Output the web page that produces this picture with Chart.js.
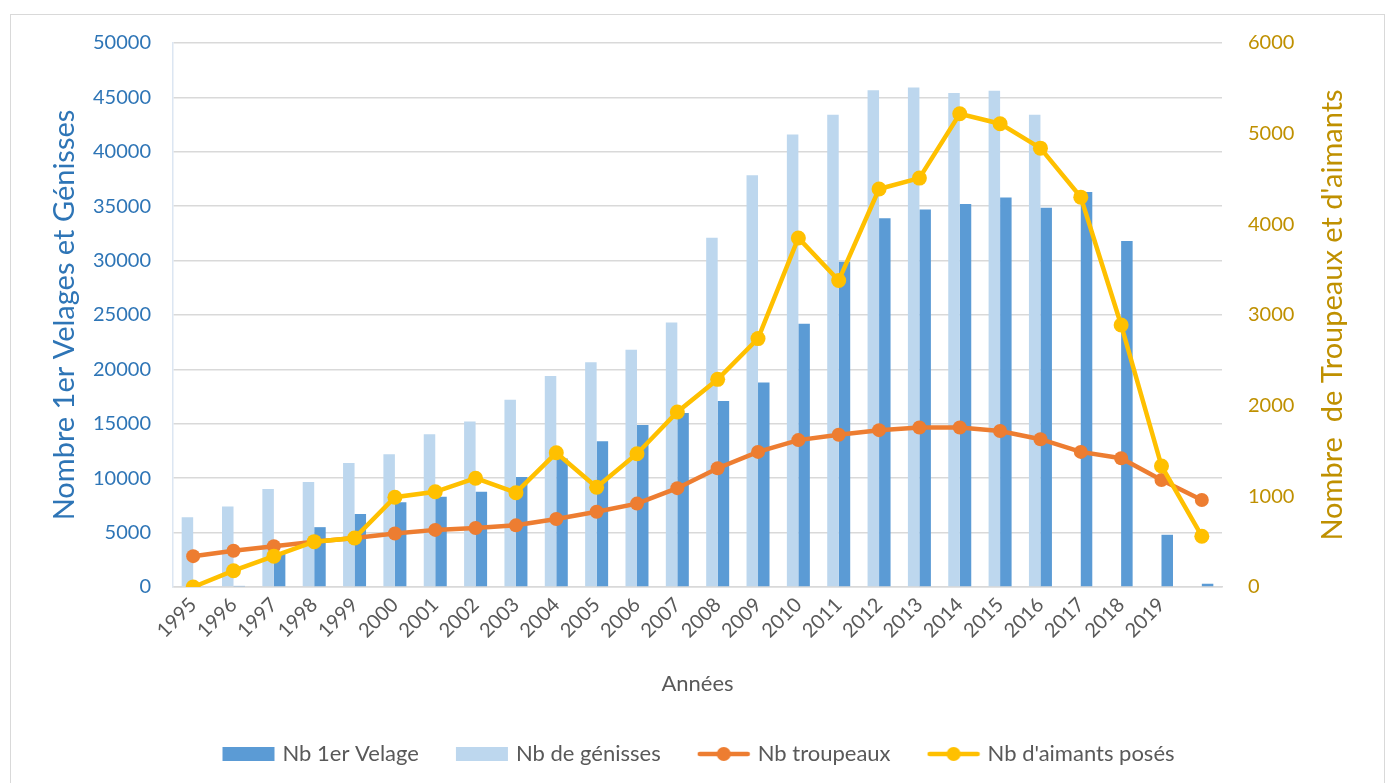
<!DOCTYPE html>
<html>
<head>
<meta charset="utf-8">
<script src="https://cdn.jsdelivr.net/npm/chart.js@4"></script>
<style>
  html, body { margin: 0; padding: 0; background: #fff; }
  #wrap { position: relative; width: 1390px; height: 783px; }
  #frame { position: absolute; left: 10px; top: 14px; width: 1375px; height: 780px; border: 1px solid #d9d9d9; box-sizing: border-box; pointer-events: none; }
</style>
</head>
<body>
<div id="wrap">
  <canvas id="myChart" width="1390" height="783"></canvas>
  <div id="frame"></div>
</div>
<script>
const years = ['1995', '1996', '1997', '1998', '1999', '2000', '2001', '2002', '2003', '2004', '2005', '2006', '2007',
               '2008', '2009', '2010', '2011', '2012', '2013', '2014', '2015', '2016', '2017', '2018', '2019', ''];
const velages = [0, 100, 3200, 5500, 6700, 7800, 8300, 8750, 10100, 11800, 13400, 14900, 16000,
                 17100, 18800, 24200, 29900, 33900, 34700, 35200, 35800, 34850, 36300, 31800, 4800, 300];
const genisses = [6400, 7400, 9000, 9650, 11400, 12200, 14050, 15200, 17200, 19400, 20650, 21800, 24300,
                  32100, 37850, 41600, 43400, 45650, 45900, 45400, 45600, 43400, null, null, null, null];
const troupeaux = [340, 400, 450, 500, 540, 590, 630, 650, 680, 750, 830, 920, 1090,
                   1310, 1490, 1620, 1680, 1730, 1760, 1760, 1720, 1630, 1490, 1420, 1180, 960];
const aimants = [0, 180, 340, 500, 540, 990, 1050, 1200, 1040, 1480, 1100, 1470, 1930,
                 2290, 2740, 3850, 3380, 4390, 4510, 5220, 5110, 4840, 4300, 2890, 1335, 560];
const leftTicks = [0, 5000, 10000, 15000, 20000, 25000, 30000, 35000, 40000, 45000, 50000];
const rightTicks = [0, 1000, 2000, 3000, 4000, 5000, 6000];

const blueDark = '#5B9BD5';
const blueLight = '#BDD7EE';
const orange = '#ED7D31';
const yellow = '#FFC000';
const gray = '#595959';
const gold = '#BF9000';
const fontFam = 'Lato, "Open Sans", sans-serif';
const rightTitle = "Nombre  de Troupeaux et d'aimants";

// little legend icons: a box for bars, a line with a dot for lines
function legendIcon(color, isLine) {
    const c = document.createElement('canvas');
    c.width = 54; c.height = 18;
    const g = c.getContext('2d');
    g.fillStyle = color;
    g.strokeStyle = color;
    if (isLine) {
        g.lineWidth = 4.5;
        g.lineCap = 'round';
        g.beginPath(); g.moveTo(3, 9); g.lineTo(51, 9); g.stroke();
        g.beginPath(); g.arc(27, 9, 7, 0, Math.PI * 2); g.fill();
    } else {
        g.fillRect(1, 2, 52, 14);
    }
    return c;
}
const icons = [legendIcon(blueDark, false), legendIcon(blueLight, false), legendIcon(orange, true), legendIcon(yellow, true)];

// the right axis title reads bottom to top, chart.js turns it the other way
const rightTitlePlugin = {
    id: 'rightTitle',
    afterDraw(chart) {
        const s = chart.scales.y1;
        const c = chart.ctx;
        c.save();
        c.translate(s.right - 27, (chart.chartArea.top + chart.chartArea.bottom) / 2);
        c.rotate(-Math.PI / 2);
        c.fillStyle = gold;
        c.font = '29px ' + fontFam;
        c.textAlign = 'center';
        c.textBaseline = 'middle';
        c.fillText(rightTitle, 0, 0);
        c.restore();
    }
};

const ctx = document.getElementById('myChart').getContext('2d');

new Chart(ctx, {
    type: 'bar',
    data: {
        labels: years,
        datasets: [
            {
                label: 'Nb 1er Velage',
                data: velages,
                backgroundColor: blueDark,
                yAxisID: 'y',
                order: 3,
                barPercentage: 1,
                categoryPercentage: 0.57
            },
            {
                label: 'Nb de génisses',
                data: genisses,
                backgroundColor: blueLight,
                yAxisID: 'y',
                order: 2,
                barPercentage: 1,
                categoryPercentage: 0.57
            },
            {
                type: 'line',
                label: 'Nb troupeaux',
                data: troupeaux,
                borderColor: orange,
                backgroundColor: orange,
                borderWidth: 4.5,
                pointRadius: 7,
                pointBorderWidth: 0,
                yAxisID: 'y1',
                order: 1
            },
            {
                type: 'line',
                label: "Nb d'aimants posés",
                data: aimants,
                borderColor: yellow,
                backgroundColor: yellow,
                borderWidth: 4.5,
                pointRadius: 7.5,
                pointBorderWidth: 0,
                yAxisID: 'y1',
                order: 0
            }
        ]
    },
    plugins: [rightTitlePlugin],
    options: {
        responsive: false,
        animation: false,
        layout: {
            padding: { left: 40, right: 30, top: 43, bottom: 8 }
        },
        plugins: {
            tooltip: { enabled: false },
            legend: {
                position: 'bottom',
                labels: {
                    color: gray,
                    font: { family: fontFam, size: 22 },
                    usePointStyle: true,
                    pointStyleWidth: 46,
                    boxHeight: 18,
                    padding: 40,
                    sort: (a, b) => a.datasetIndex - b.datasetIndex,
                    generateLabels: function(chart) {
                        return chart.data.datasets.map(function(ds, i) {
                            return {
                                text: ds.label,
                                fontColor: gray,
                                pointStyle: icons[i],
                                hidden: false,
                                lineWidth: 0,
                                strokeStyle: 'transparent',
                                fillStyle: ds.backgroundColor,
                                datasetIndex: i
                            };
                        });
                    }
                }
            }
        },
        scales: {
            x: {
                grid: { display: false, drawTicks: false },
                border: { color: '#d9d9d9', width: 1.5 },
                ticks: {
                    color: gray,
                    font: { family: fontFam, size: 20 },
                    minRotation: 45,
                    maxRotation: 45,
                    autoSkip: false,
                    padding: 6
                },
                title: {
                    display: true,
                    text: 'Années',
                    color: gray,
                    font: { family: fontFam, size: 22 },
                    padding: { top: 4, bottom: 6 }
                },
                afterFit: function(scale) { scale.height = 116; }
            },
            y: {
                position: 'left',
                min: 0,
                max: 50000,
                afterBuildTicks: function(scale) { scale.ticks = leftTicks.map(v => ({ value: v })); },
                grid: { color: '#d9d9d9', lineWidth: 1.5, drawTicks: false },
                border: { display: true, color: '#dce6f2', width: 1.5 },
                ticks: {
                    color: '#2E75B6',
                    font: { family: fontFam, size: 20 },
                    padding: 22,
                    callback: v => String(v)
                },
                title: {
                    display: true,
                    text: 'Nombre 1er Velages et Génisses',
                    color: '#2E75B6',
                    font: { family: fontFam, size: 29 },
                    padding: { top: 7, bottom: 0 }
                },
                afterFit: function(scale) { scale.width = 133; }
            },
            y1: {
                position: 'right',
                min: 0,
                max: 6000,
                afterBuildTicks: function(scale) { scale.ticks = rightTicks.map(v => ({ value: v })); },
                grid: { display: false, drawTicks: false },
                border: { display: false },
                ticks: {
                    color: gold,
                    font: { family: fontFam, size: 20 },
                    padding: 26,
                    callback: v => String(v)
                },
                afterFit: function(scale) { scale.width = 138; }
            }
        }
    }
});
</script>
</body>
</html>
